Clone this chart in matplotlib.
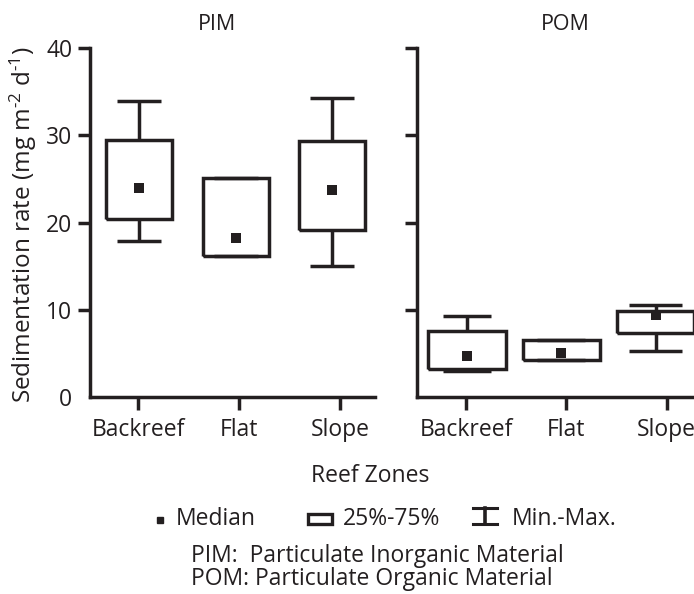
import matplotlib
matplotlib.use('Agg')
import matplotlib.pyplot as plt
from matplotlib.lines import Line2D
from matplotlib.patches import Rectangle

# ---------------- data ----------------
zones = ['Backreef', 'Flat', 'Slope']
pim_min = [17.9, 16.2, 15.0]
pim_q1 = [20.4, 16.2, 19.1]
pim_med = [23.9, 18.2, 23.7]
pim_q3 = [29.4, 25.1, 29.3]
pim_max = [33.9, 25.1, 34.3]

pom_min = [3.0, 4.2, 5.3]
pom_q1 = [3.2, 4.2, 7.3]
pom_med = [4.7, 5.0, 9.4]
pom_q3 = [7.6, 6.5, 9.9]
pom_max = [9.3, 6.5, 10.5]

yticks = [0, 10, 20, 30, 40]
panel_titles = ['PIM', 'POM']
ylabel = r'Sedimentation rate (mg m$^{\text{-}2}$ d$^{\text{-}1}$)'
xlabel = 'Reef Zones'
legend_labels = ['Median', '25%-75%', 'Min.-Max.']
notes = ['PIM:  Particulate Inorganic Material', 'POM: Particulate Organic Material']

# ---------------- style ----------------
plt.rcParams['font.family'] = ['Open Sans', 'DejaVu Sans']
plt.rcParams['mathtext.fontset'] = 'custom'
plt.rcParams['mathtext.rm'] = 'Open Sans'
plt.rcParams['mathtext.it'] = 'Open Sans:italic'
plt.rcParams['mathtext.bf'] = 'Open Sans:bold'
plt.rcParams['mathtext.default'] = 'regular'

K = '#231f20'
LW = 2.5
FS = 16.5
W, H = 694, 594

fig = plt.figure(figsize=(W / 100, H / 100), dpi=100)


def fx(px):
    return px / W


def fy(py):
    return 1 - py / H


axL = fig.add_axes([fx(90), fy(397), (375 - 90) / W, (397 - 48) / H])
axR = fig.add_axes([fx(417), fy(397), (727 - 417) / W, (397 - 48) / H])

panels = [
    (axL, (pim_min, pim_q1, pim_med, pim_q3, pim_max), [0.01, 0.97, 1.92], 0.65,
     [0.43, 0.43, 0.44], (-0.475, 2.347)),
    (axR, (pom_min, pom_q1, pom_med, pom_q3, pom_max), [0.01, 0.95, 1.89], 0.77,
     [0.48, 0.48, 0.53], (-0.4876, 2.6)),
]

for i, (ax, (mn, q1, md, q3, mx), pos, bw, cw, xl) in enumerate(panels):
    stats = []
    for j, z in enumerate(zones):
        stats.append(dict(label=z, whislo=mn[j], q1=q1[j], med=md[j],
                          q3=q3[j], whishi=mx[j], mean=md[j], fliers=[]))
    lineprops = dict(color=K, linewidth=LW, solid_joinstyle='miter',
                     solid_capstyle='butt')
    ax.bxp(stats, positions=pos, widths=bw, capwidths=cw, showmeans=True,
           showfliers=False, boxprops=lineprops, whiskerprops=lineprops,
           capprops=lineprops, medianprops=dict(linewidth=0),
           meanprops=dict(marker='s', markersize=7, markerfacecolor=K,
                          markeredgecolor=K, markeredgewidth=0))
    ax.set_xlim(*xl)
    ax.set_ylim(0, 40)
    ax.set_xticks(range(len(zones)))
    ax.set_xticklabels(zones, fontsize=FS, color=K)
    ax.set_yticks(yticks)
    if i == 0:
        ax.set_yticklabels([str(v) for v in yticks], fontsize=FS, color=K)
    else:
        ax.set_yticklabels([])
    for s in ['top', 'right']:
        ax.spines[s].set_visible(False)
    for s in ['left', 'bottom']:
        ax.spines[s].set_linewidth(LW)
        ax.spines[s].set_color(K)
        ax.spines[s].set_capstyle('projecting')
    ax.tick_params(axis='y', length=8.6, width=LW, color=K, pad=4)
    ax.tick_params(axis='x', length=9.4, width=LW, color=K, pad=5.5)
    ax.yaxis.get_major_ticks()[0].tick1line.set_visible(False)
    ax.set_facecolor('none')

# titles
fig.text(fx(217), fy(30), panel_titles[0], ha='center', va='baseline', fontsize=15.5, color=K)
fig.text(fx(565), fy(30), panel_titles[1], ha='center', va='baseline', fontsize=15.5, color=K)

# axis labels
fig.text(fx(23), fy(225), ylabel, rotation=90, ha='center', va='center', fontsize=17.5, color=K)
fig.text(fx(370), fy(482), xlabel, ha='center', va='baseline', fontsize=FS, color=K)

# legend
fig.add_artist(Line2D([fx(160)], [fy(519.5)], marker='s', markersize=3.8, color=K,
                      linestyle='none', transform=fig.transFigure))
fig.text(fx(176), fy(525), legend_labels[0], ha='left', va='baseline', fontsize=FS, color=K)
fig.add_artist(Rectangle((fx(308), fy(523.5)), (332 - 308) / W, (523.5 - 513.5) / H,
                         facecolor='none', edgecolor=K, linewidth=2.4,
                         transform=fig.transFigure))
fig.text(fx(343), fy(525), legend_labels[1], ha='left', va='baseline', fontsize=FS, color=K)
fig.add_artist(Line2D([fx(485), fx(485)], [fy(508), fy(524)], color=K, linewidth=2.6,
                      transform=fig.transFigure))
fig.add_artist(Line2D([fx(473), fx(497)], [fy(508), fy(508)], color=K, linewidth=2.2,
                      transform=fig.transFigure))
fig.add_artist(Line2D([fx(473), fx(497)], [fy(524), fy(524)], color=K, linewidth=2.2,
                      transform=fig.transFigure))
fig.text(fx(512), fy(525), legend_labels[2], ha='left', va='baseline', fontsize=FS, color=K)

# notes
fig.text(fx(191), fy(562), notes[0], ha='left', va='baseline', fontsize=FS, color=K)
fig.text(fx(191), fy(585), notes[1], ha='left', va='baseline', fontsize=FS, color=K)

fig.savefig('out.png', dpi=100)
